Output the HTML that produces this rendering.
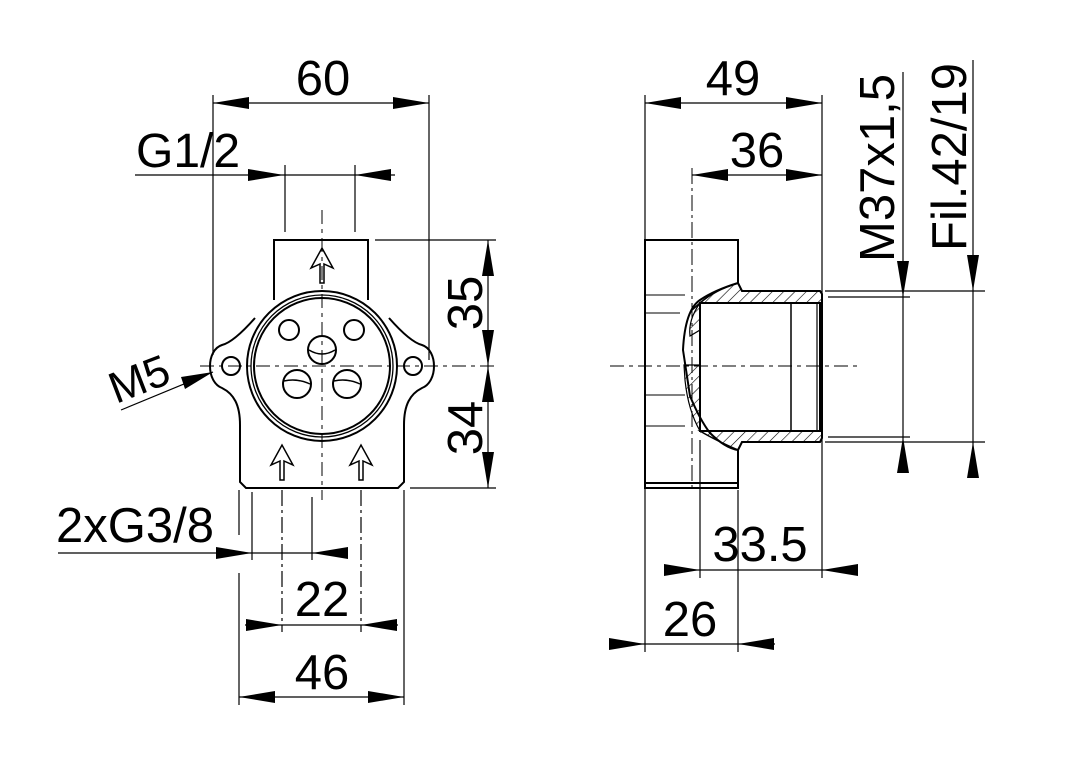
<!DOCTYPE html>
<html><head><meta charset="utf-8"><style>html,body{margin:0;padding:0;background:#fff}svg{display:block}</style></head><body>
<svg width="1080" height="763" viewBox="0 0 1080 763" xmlns="http://www.w3.org/2000/svg" font-family="Liberation Sans, sans-serif">
<defs>
<pattern id="h" width="8" height="8" patternUnits="userSpaceOnUse" patternTransform="rotate(45)"><line x1="0" y1="0" x2="0" y2="8" stroke="#000" stroke-width="1.2"/></pattern>
</defs>
<g stroke="#000" stroke-width="1.2" fill="none">
<line x1="213" y1="95" x2="213" y2="355"/>
<line x1="429" y1="95" x2="429" y2="360"/>
<line x1="285" y1="165" x2="285" y2="232"/>
<line x1="355" y1="165" x2="355" y2="232"/>
<line x1="375" y1="240" x2="496" y2="240"/>
<line x1="410" y1="488" x2="496" y2="488"/>
<line x1="239" y1="490" x2="239" y2="535"/><line x1="239" y1="573" x2="239" y2="705"/>
<line x1="252" y1="492" x2="252" y2="560"/>
<line x1="312" y1="497" x2="312" y2="560"/>
<line x1="404" y1="490" x2="404" y2="705"/>
<line x1="361" y1="490" x2="361" y2="632" stroke-dasharray="16 4 3 4"/>
<line x1="282" y1="490" x2="282" y2="632" stroke-dasharray="16 4 3 4"/>
<line x1="322" y1="210" x2="322" y2="500" stroke-dasharray="14 5 4 5" stroke-width="1"/>
<line x1="200" y1="366" x2="496" y2="366" stroke-dasharray="14 5 4 5" stroke-width="1"/>
<g stroke-width="2">
<path d="M274 300 L274 240 L368 240 L368 300"/>
<path d="M255 318 C 240 335 230 343 222 345 C 206 350 206 382 222 388 C 234 394 240 405 240 425 L240 482 L246 488 L398 488 L404 482 L404 425 C 404 405 410 394 422 388 C 438 382 438 350 422 345 C 414 343 404 335 389 318"/>
<circle cx="322" cy="366" r="75"/>
<circle cx="322" cy="366" r="71" stroke-width="1.3"/>
<circle cx="322" cy="366" r="68"/>
<circle cx="231" cy="366" r="9"/>
<circle cx="413" cy="366" r="9"/>
<circle cx="289" cy="330" r="10"/>
<circle cx="354" cy="330" r="10"/>
<circle cx="322" cy="350" r="14"/>
<circle cx="297" cy="384" r="14"/>
<circle cx="347" cy="384" r="14"/>
</g>
<g stroke-width="1.5">
<path d="M309 350 Q322 358 335 350"/>
<path d="M284 381 Q297 378 310 384"/><path d="M334 381 Q347 378 360 384"/>
<path d="M320 283 L320 264 L311 268 L322 248 L333 268 L324 264 L324 283 Z"/>
<path d="M280 480 L280 461 L271 465 L282 445 L293 465 L284 461 L284 480 Z"/>
<path d="M359 480 L359 461 L350 465 L361 445 L372 465 L363 461 L363 480 Z"/>
</g>
<line x1="213" y1="103" x2="429" y2="103"/>
<line x1="135" y1="175" x2="395" y2="175"/>
<line x1="488" y1="240" x2="488" y2="488"/>
<line x1="121" y1="410" x2="213" y2="372"/>
<line x1="58" y1="553" x2="348" y2="553"/>
<line x1="245" y1="625" x2="398" y2="625"/>
<line x1="239" y1="697" x2="404" y2="697"/>

<line x1="645" y1="95" x2="645" y2="652"/>
<line x1="822" y1="95" x2="822" y2="578"/>
<line x1="692" y1="168" x2="692" y2="490" stroke-dasharray="16 4 3 4" stroke-width="1"/>
<line x1="700" y1="440" x2="700" y2="578"/>
<line x1="738" y1="490" x2="738" y2="652"/>
<line x1="825" y1="291" x2="985" y2="291"/>
<line x1="825" y1="442" x2="985" y2="442"/>
<line x1="828" y1="297" x2="910" y2="297"/>
<line x1="828" y1="437" x2="910" y2="437"/>
<line x1="903" y1="72" x2="903" y2="470"/>
<line x1="973" y1="60" x2="973" y2="475"/>
<line x1="645" y1="103" x2="822" y2="103"/>
<line x1="692" y1="175" x2="822" y2="175"/>
<line x1="665" y1="570" x2="858" y2="570"/>
<line x1="609" y1="644" x2="775" y2="644"/>
<line x1="610" y1="366" x2="858" y2="366" stroke-dasharray="14 5 4 5" stroke-width="1"/>
<g stroke-width="1">
<line x1="645" y1="295" x2="685" y2="295"/><line x1="645" y1="313" x2="680" y2="313"/>
<line x1="645" y1="395" x2="685" y2="395"/><line x1="645" y1="426" x2="685" y2="426"/>
</g>
<g stroke-width="2">
<path d="M738 283 L738 240 L645 240 L645 488 L738 488 L738 450"/>
<line x1="645" y1="483" x2="738" y2="483"/>
<path d="M738 283 L742 291 L820 291 L822 294 L822 438 L820 442 L742 442 L738 450"/>
<path d="M738 283 Q715 290 700 300 Q685 310 683 350 L690 396 Q700 420 710 433 Q725 448 738 450" />
<rect x="700" y="303" width="120" height="128"/>
<line x1="791" y1="303" x2="791" y2="431" stroke-width="1.5"/>
<line x1="817" y1="303" x2="817" y2="431" stroke-width="1.2"/>
</g>
<path d="M738 283 L742 291 L820 291 L822 294 L822 303 L700 303 L692 310 L700 303 Q715 290 738 283 Z" fill="url(#h)" stroke-width="1.5"/>
<path d="M700 303 L700 330 L690 336 Q688 320 700 303 Z" fill="url(#h)"/>
<path d="M700 431 L822 431 L822 438 L820 442 L742 442 L738 450 Q715 440 700 431 Z" fill="url(#h)" stroke-width="1.5"/>
<path d="M700 365 L700 431 Q688 410 685 380 L684 365 Z" fill="url(#h)"/>
</g>
<g fill="#000">
<path d="M213 103 L249 97 L249 109 Z"/><path d="M429 103 L393 97 L393 109 Z"/>
<path d="M284 175 L248 169 L248 181 Z"/><path d="M355 175 L391 169 L391 181 Z"/>
<path d="M488 240 L482 276 L494 276 Z"/><path d="M488 366 L482 330 L494 330 Z"/>
<path d="M488 366 L482 402 L494 402 Z"/><path d="M488 488 L482 452 L494 452 Z"/>
<path d="M213 372 L181 377 L185 389 Z"/>
<path d="M252 553 L216 547 L216 559 Z"/><path d="M312 553 L348 547 L348 559 Z"/>
<path d="M282 625 L246 619 L246 631 Z"/><path d="M361 625 L397 619 L397 631 Z"/>
<path d="M239 697 L275 691 L275 703 Z"/><path d="M404 697 L368 691 L368 703 Z"/>
<path d="M645 103 L681 97 L681 109 Z"/><path d="M822 103 L786 97 L786 109 Z"/>
<path d="M692 175 L728 169 L728 181 Z"/><path d="M822 175 L786 169 L786 181 Z"/>
<path d="M903 297 L897 261 L909 261 Z"/><path d="M903 437 L897 473 L909 473 Z"/>
<path d="M973 291 L967 255 L979 255 Z"/><path d="M973 442 L967 478 L979 478 Z"/>
<path d="M700 570 L664 564 L664 576 Z"/><path d="M822 570 L858 564 L858 576 Z"/>
<path d="M645 644 L609 638 L609 650 Z"/><path d="M738 644 L774 638 L774 650 Z"/>
</g>
<g fill="#000" font-size="49">
<text x="323" y="95" text-anchor="middle">60</text>
<text x="136" y="167" font-size="48">G1/2</text>
<text x="0" y="0" transform="translate(116 404) rotate(-21)" font-size="44">M5</text>
<text x="56" y="542">2xG3/8</text>
<text x="322" y="616" text-anchor="middle">22</text>
<text x="322" y="689" text-anchor="middle">46</text>
<text x="0" y="0" transform="translate(482 303) rotate(-90)" text-anchor="middle">35</text>
<text x="0" y="0" transform="translate(482 428) rotate(-90)" text-anchor="middle">34</text>
<text x="733" y="95" text-anchor="middle">49</text>
<text x="757" y="167" text-anchor="middle">36</text>
<text x="760" y="561" text-anchor="middle">33.5</text>
<text x="690" y="636" text-anchor="middle">26</text>
<text x="0" y="0" transform="translate(894 168) rotate(-90)" text-anchor="middle">M37x1,5</text>
<text x="0" y="0" transform="translate(966 157) rotate(-90)" text-anchor="middle">Fil.42/19</text>
</g>
</svg>
</body></html>
